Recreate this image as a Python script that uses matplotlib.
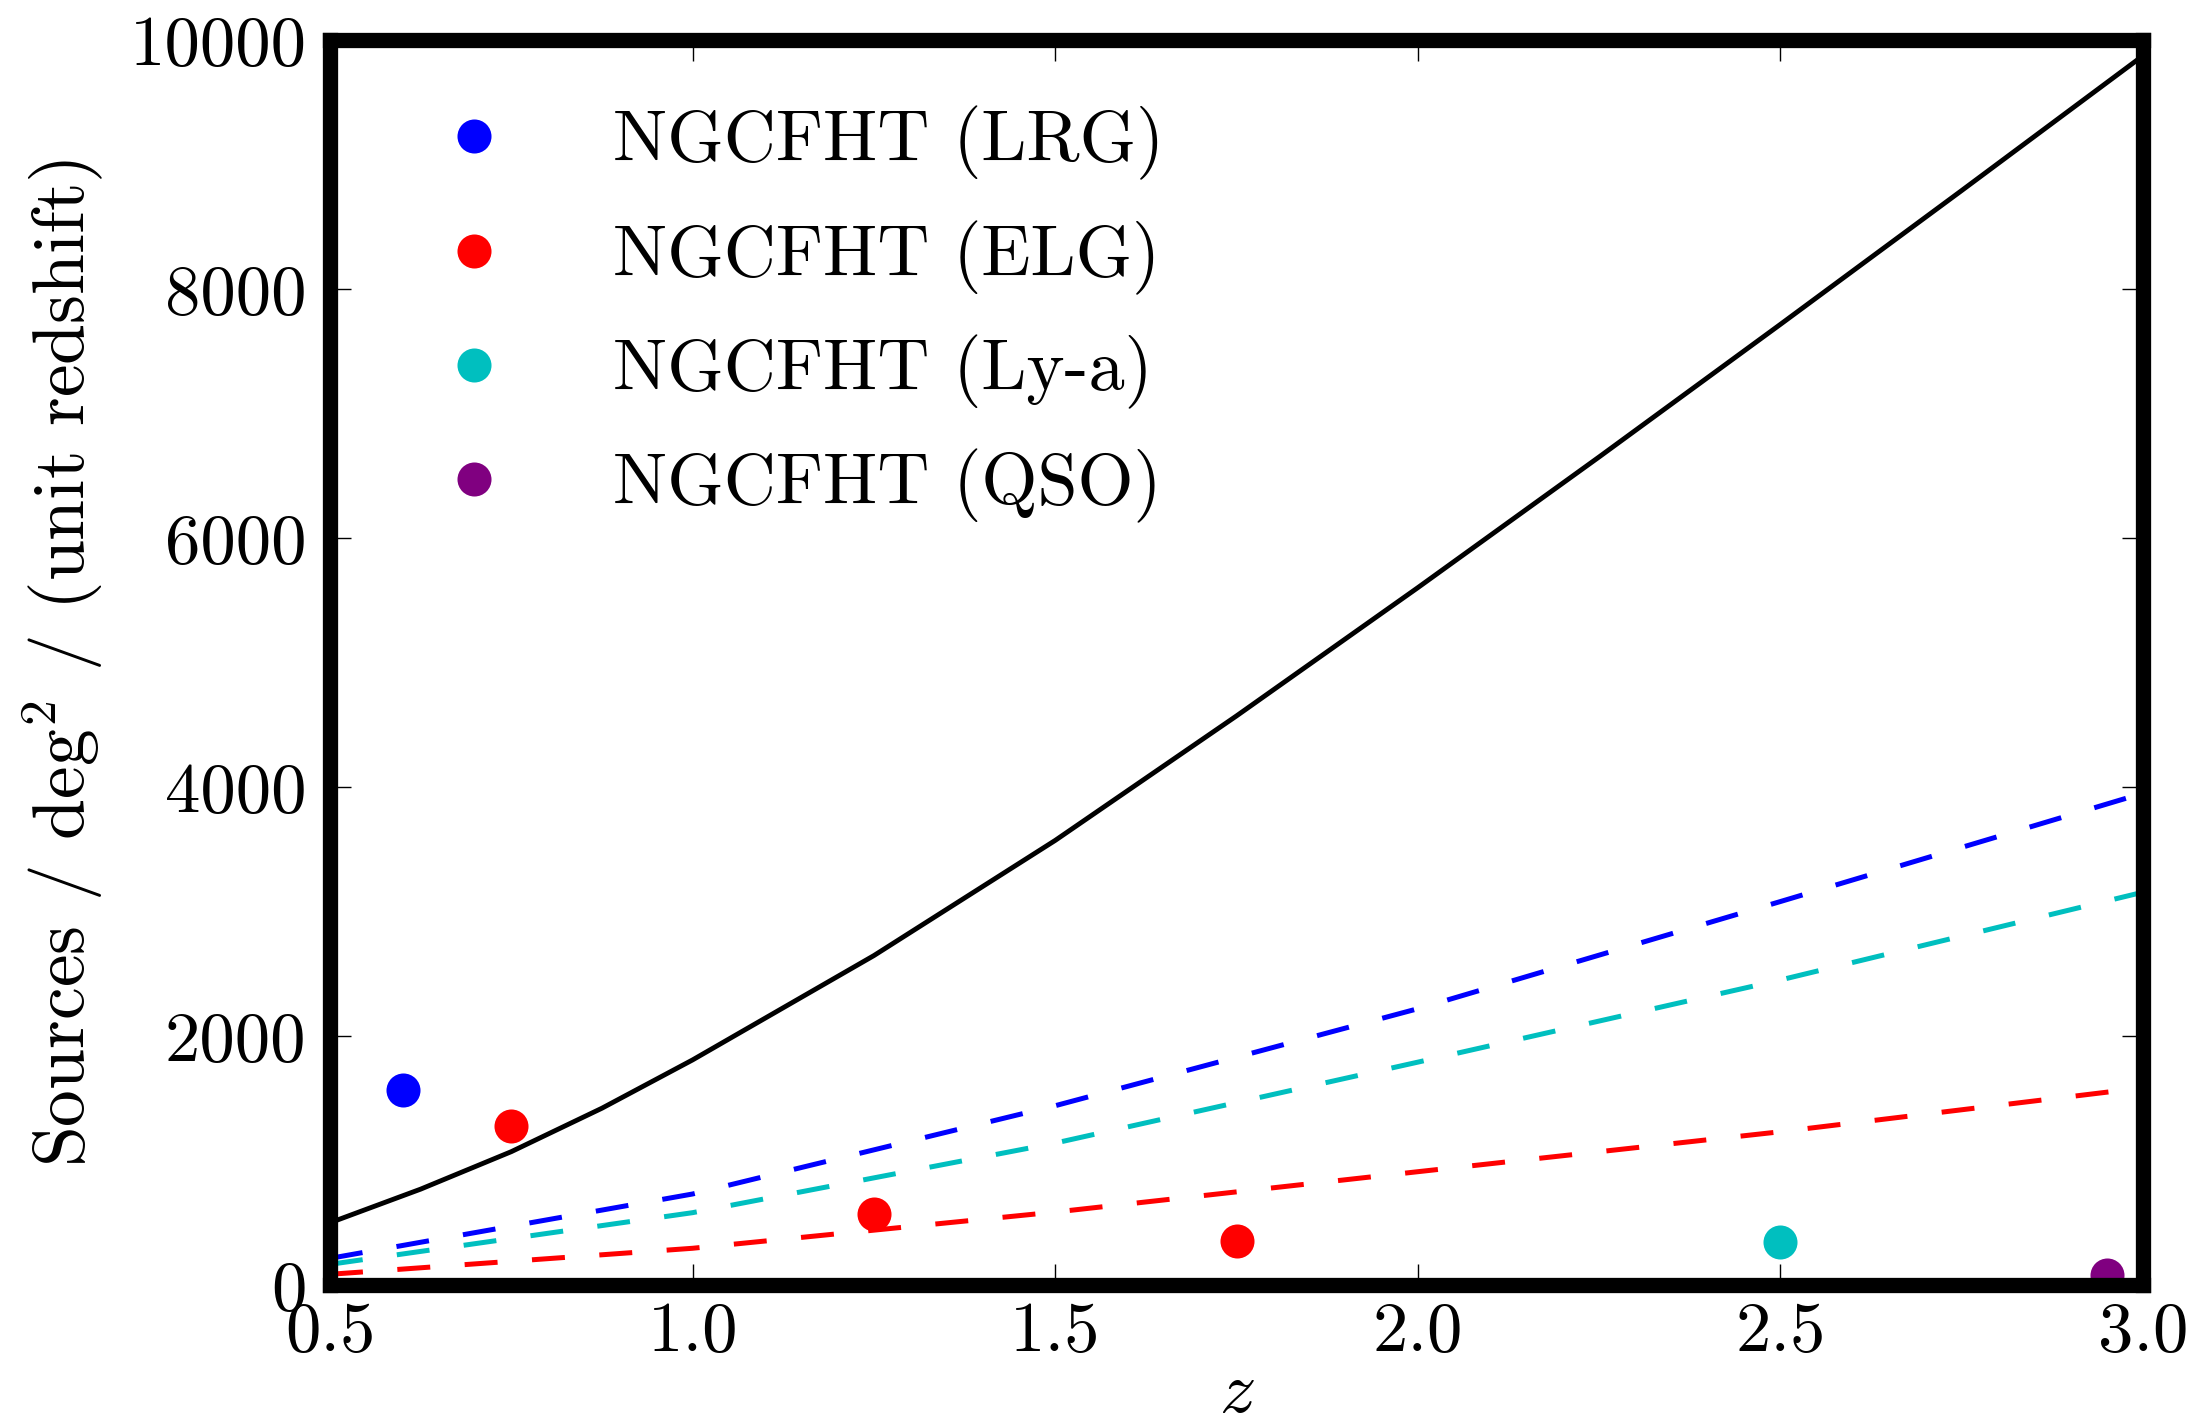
import matplotlib
matplotlib.use("Agg")
import matplotlib.pyplot as plt
import warnings
warnings.filterwarnings("ignore")

# ---------------- data ----------------
z_model = [0.5, 0.625, 0.75, 0.875, 1.0, 1.25, 1.5, 1.75, 2.0, 2.25, 2.5, 2.75, 3.0]
total_model = [500, 770, 1071, 1420, 1808, 2646, 3571, 4571, 5601, 6651, 7716, 8791, 9874]

z_dash = [0.5, 1.0, 1.5, 2.0, 2.5, 3.0]
lrg_model = [214, 731, 1440, 2219, 3080, 3950]
lya_model = [166, 581, 1140, 1790, 2450, 3155]
elg_model = [86, 295, 586, 910, 1231, 1584]

lrg_z = [0.6]
lrg_n = [1570]
elg_z = [0.75, 1.25, 1.75]
elg_n = [1280, 568, 357]
lya_z = [2.5]
lya_n = [348]
qso_z = [2.95]
qso_n = [80]

labels = ["NGCFHT (LRG)", "NGCFHT (ELG)", "NGCFHT (Ly-a)", "NGCFHT (QSO)"]
colors = ["#0000ff", "#ff0000", "#00bfbf", "#800080"]

xticks = [0.5, 1.0, 1.5, 2.0, 2.5, 3.0]
xticklabels = ["0.5", "1.0", "1.5", "2.0", "2.5", "3.0"]
yticks = [0, 2000, 4000, 6000, 8000, 10000]
yticklabels = ["0", "2000", "4000", "6000", "8000", "10000"]

# ---------------- style ----------------
plt.rcParams["font.family"] = ["cmr10", "DejaVu Serif"]
plt.rcParams["mathtext.fontset"] = "cm"
plt.rcParams["axes.unicode_minus"] = False

W, H = 2203, 1415
fig = plt.figure(figsize=(W / 100, H / 100), dpi=100)
L, R, T, B = 330, 2143, 40, 1285
ax = fig.add_axes([L / W, 1 - B / H, (R - L) / W, (B - T) / H])

dash = (6.6, 6.9)
ax.plot(z_model, total_model, color="black", lw=3.5, solid_capstyle="butt",
        solid_joinstyle="round")
ax.plot(z_dash, lrg_model, color=colors[0], lw=3.6, dashes=dash)
ax.plot(z_dash, lya_model, color=colors[2], lw=3.6, dashes=dash)
ax.plot(z_dash, elg_model, color=colors[1], lw=3.6, dashes=dash)

ms = 24.5
pts = [(lrg_z, lrg_n), (elg_z, elg_n), (lya_z, lya_n), (qso_z, qso_n)]
for (zz, nn), c, lab in zip(pts, colors, labels):
    ax.plot(zz, nn, "o", color=c, ms=ms, mew=0, ls="none", label=lab)

ax.set_xlim(0.5, 3.0)
ax.set_ylim(0, 10000)
ax.set_xticks(xticks)
ax.set_xticklabels(xticklabels)
ax.set_yticks(yticks)
ax.set_yticklabels(yticklabels)

ax.tick_params(which="both", direction="in", length=15, width=1.0,
               top=True, right=True, labelsize=51, colors="black")
ax.tick_params(axis="x", pad=12)
ax.tick_params(axis="y", pad=17)

for sp in ax.spines.values():
    sp.set_linewidth(11)
    sp.set_capstyle("projecting")

ax.set_xlabel(r"$z$", fontsize=52)
ax.xaxis.set_label_coords(0.5, -0.061)
ax.set_ylabel(r"Sources / deg$^2$ / (unit redshift)", fontsize=53)
ax.yaxis.set_label_coords(-0.124, 0.5)

leg = ax.legend(loc="upper left", bbox_to_anchor=(0.0397, 0.947),
                frameon=False, numpoints=1, fontsize=52, borderaxespad=0,
                borderpad=0, handlelength=2.0, handletextpad=0.92,
                labelspacing=0.555)

fig.savefig("out.png", dpi=100)
